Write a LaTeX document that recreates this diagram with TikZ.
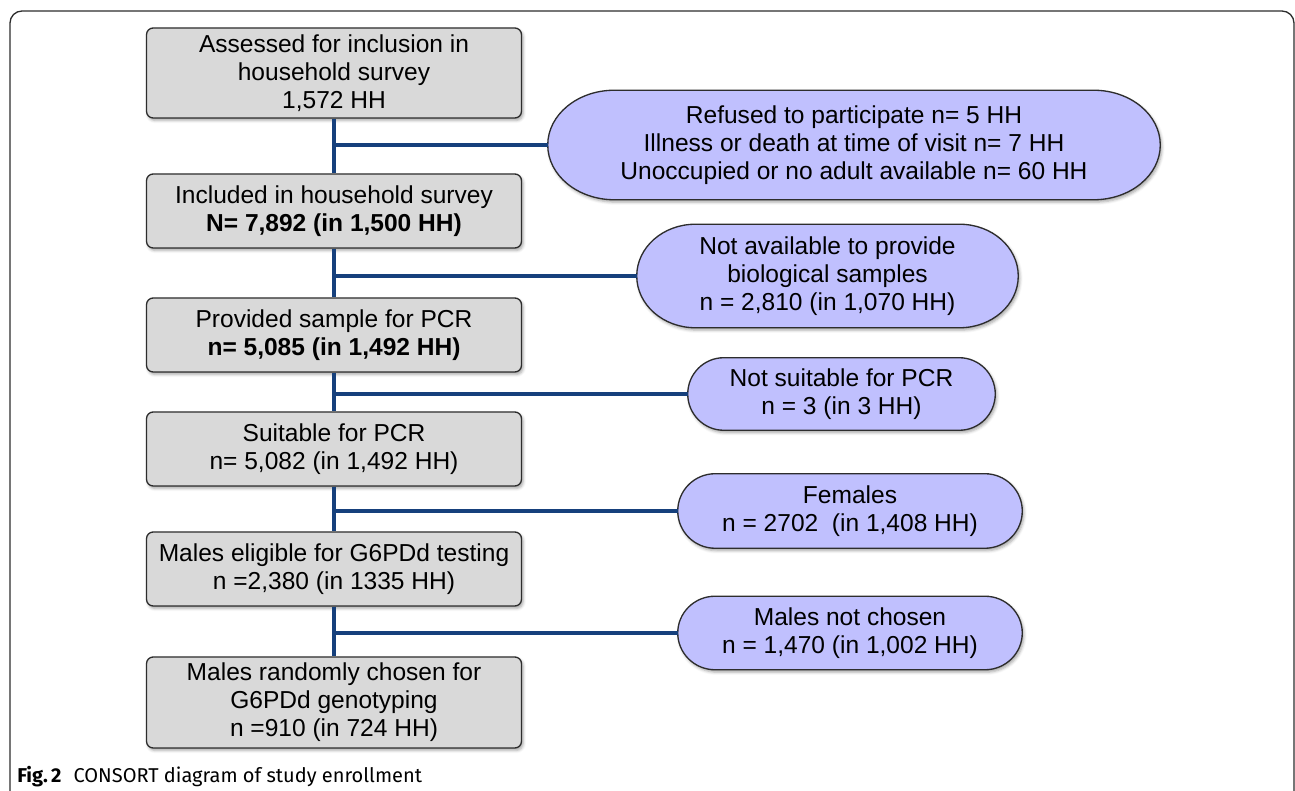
\documentclass[tikz,border=0pt]{standalone}
\usepackage{fontspec}
\setmainfont{Liberation Sans}
\newfontfamily\capfont{Fira Sans}
\usetikzlibrary{calc,backgrounds,shadows.blur}
\definecolor{boxgray}{RGB}{217,217,217}
\definecolor{pillblue}{RGB}{192,192,254}
\definecolor{linkblue}{RGB}{22,64,124}
\definecolor{edgegray}{RGB}{45,45,45}
\tikzset{
  mainfont/.style={font=\fontsize{18.4}{21}\selectfont},
  stepbox/.style={mainfont, draw=edgegray, line width=1pt, fill=boxgray, rounded corners=5pt,
    minimum width=281.25pt, inner sep=0pt, align=center,
    blur shadow={shadow xshift=1.2pt, shadow yshift=-1.8pt, shadow opacity=35, shadow blur steps=4}},
  pillnode/.style={mainfont, inner sep=0pt, align=center},
  pillshape/.style={draw=edgegray, line width=1pt, fill=pillblue,
    blur shadow={shadow xshift=1.2pt, shadow yshift=-1.8pt, shadow opacity=35, shadow blur steps=4}},
  link/.style={draw=linkblue, line width=2.3pt},
  framestyle/.style={draw=edgegray, line width=1pt, rounded corners=9pt}
}
\newcommand\pillpath[2]{%
  \path[pillshape] let \p1=(#1.north west), \p2=(#1.south east), \n1={(\y1-\y2)/2} in
   (\x1+#2,\y1) -- (\x2-#2,\y1) arc[start angle=90,end angle=-90,x radius=#2,y radius=\n1]
   -- (\x1+#2,\y2) arc[start angle=270,end angle=90,x radius=#2,y radius=\n1] -- cycle;}
\begin{document}
\begin{tikzpicture}[x=0.75pt,y=0.75pt]
\useasboundingbox (0,0) rectangle (1295,791);
\draw[framestyle] (10,-20) -- (10,780) -- (1294,780) -- (1294,-20);

% main boxes
\node[stepbox, minimum height=67.5pt] (b1) at (334,718) {Assessed for inclusion in\\household survey\\1,572 HH};
\node[stepbox, minimum height=55.5pt] (b2) at (334,580) {Included in household survey\\\textbf{N= 7,892 (in 1,500 HH)}};
\node[stepbox, minimum height=55.5pt] (b3) at (334,456) {Provided sample for PCR\\\textbf{n= 5,085 (in 1,492 HH)}};
\node[stepbox, minimum height=55.5pt] (b4) at (334,342) {Suitable for PCR\\n= 5,082 (in 1,492 HH)};
\node[stepbox, minimum height=55.5pt] (b5) at (334,222) {Males eligible for G6PDd testing\\n =2,380 (in 1335 HH)};
\node[stepbox, minimum height=68.25pt] (b6) at (334,88.5) {Males randomly chosen for\\G6PDd genotyping\\ n =910 (in 724 HH)};

% exclusion pills
\node[pillnode, minimum width=459pt, minimum height=81.75pt] (p1) at (854,646) {Refused to participate n= 5 HH\\Illness or death at time of visit n= 7 HH\\Unoccupied or no adult available n= 60 HH};
\node[pillnode, minimum width=285.75pt, minimum height=77.25pt] (p2) at (827.5,515) {Not available to provide\\biological samples\\n = 2,810 (in 1,070 HH)};
\node[pillnode, minimum width=230.25pt, minimum height=54pt] (p3) at (841.5,397) {Not suitable for PCR\\n = 3 (in 3 HH)};
\node[pillnode, minimum width=258pt, minimum height=55.5pt] (p4) at (850,280) {Females\\n = 2702 \ (in 1,408 HH)};
\node[pillnode, minimum width=258pt, minimum height=54.75pt] (p5) at (850,158) {Males not chosen\\n = 1,470 (in 1,002 HH)};

\begin{pgfonlayer}{background}
\pillpath{p1}{50pt}
\pillpath{p2}{44pt}
\pillpath{p3}{27pt}
\pillpath{p4}{28pt}
\pillpath{p5}{28pt}
\end{pgfonlayer}

% connectors
\coordinate (j1) at (b1.south |- p1.west);
\coordinate (j2) at (b2.south |- p2.west);
\coordinate (j3) at (b3.south |- p3.west);
\coordinate (j4) at (b4.south |- p4.west);
\coordinate (j5) at (b5.south |- p5.west);
\path[link] (b1.south) -- (b2.north);
\path[link] (b2.south) -- (b3.north);
\path[link] (b3.south) -- (b4.north);
\path[link] (b4.south) -- (b5.north);
\path[link] (b5.south) -- (b6.north);
\path[link] (j1) -- (p1.west);
\path[link] (j2) -- (p2.west);
\path[link] (j3) -- (p3.west);
\path[link] (j4) -- (p4.west);
\path[link] (j5) -- (p5.west);

% caption
\node[anchor=base west, inner sep=0pt, font=\capfont\fontsize{15}{18}\selectfont] (cap) at (17,8)
  {\textbf{Fig.\,2}\hspace{0.6em}CONSORT diagram of study enrollment};
\end{tikzpicture}
\end{document}
